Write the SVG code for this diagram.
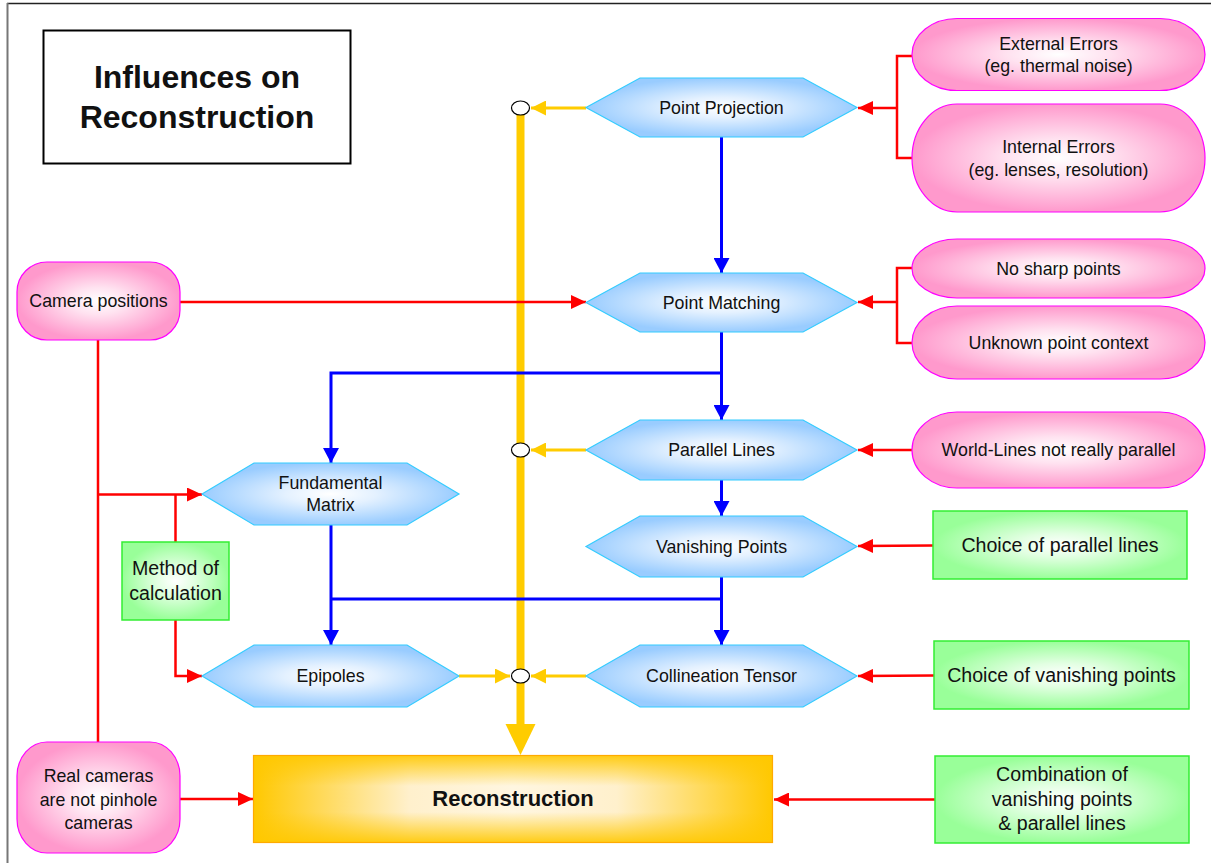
<svg xmlns="http://www.w3.org/2000/svg" width="1211" height="863" viewBox="0 0 1211 863">
<defs>
<style>
text{font-family:"Liberation Sans",Arial,sans-serif;fill:#111;text-anchor:middle}
.t16{font-size:17.8px}
.t18{font-size:19.6px}
.hex{fill:url(#gBlue);stroke:#33CCFF;stroke-width:1.2}
.pink{fill:url(#gPink);stroke:#FF00FF;stroke-width:1.2}
.green{fill:url(#gGreen);stroke:#33EE33;stroke-width:1.5}
.red{fill:none;stroke:#FF0000;stroke-width:2.5}
.blue{fill:none;stroke:#0000FF;stroke-width:3}
.yel{fill:none;stroke:#FFCC00;stroke-width:3}
</style>
<radialGradient id="gBlue" cx="50%" cy="50%" r="50%">
<stop offset="0" stop-color="#FFFFFF"/>
<stop offset="0.35" stop-color="#E4F1FF"/>
<stop offset="1" stop-color="#99CCFF"/>
</radialGradient>
<radialGradient id="gPink" cx="50%" cy="50%" r="50%">
<stop offset="0" stop-color="#FFFFFF"/>
<stop offset="0.35" stop-color="#FFE2F0"/>
<stop offset="1" stop-color="#FF99CC"/>
</radialGradient>
<radialGradient id="gGreen" cx="50%" cy="50%" r="50%">
<stop offset="0" stop-color="#FFFFFF"/>
<stop offset="0.35" stop-color="#E2FFE2"/>
<stop offset="1" stop-color="#99FF99"/>
</radialGradient>
<linearGradient id="gOrH" x1="0" y1="0" x2="1" y2="0">
<stop offset="0" stop-color="#FFC800"/>
<stop offset="0.3" stop-color="#FFF0CC"/>
<stop offset="0.5" stop-color="#FFF6E0"/>
<stop offset="0.7" stop-color="#FFF0CC"/>
<stop offset="1" stop-color="#FFC800"/>
</linearGradient>
<linearGradient id="gOrV" x1="0" y1="0" x2="0" y2="1">
<stop offset="0" stop-color="#FFC800" stop-opacity="0.9"/>
<stop offset="0.35" stop-color="#FFC800" stop-opacity="0"/>
<stop offset="0.65" stop-color="#FFC800" stop-opacity="0"/>
<stop offset="1" stop-color="#FFC800" stop-opacity="0.9"/>
</linearGradient>
<marker id="aRed" markerUnits="userSpaceOnUse" markerWidth="15" markerHeight="14" refX="15" refY="7" orient="auto">
<path d="M0,0 L15,7 L0,14 z" fill="#FF0000"/>
</marker>
<marker id="aBlue" markerUnits="userSpaceOnUse" markerWidth="15" markerHeight="16" refX="15" refY="8" orient="auto">
<path d="M0,0 L15,8 L0,16 z" fill="#0000FF"/>
</marker>
<marker id="aYel" markerUnits="userSpaceOnUse" markerWidth="15" markerHeight="15" refX="15" refY="7.5" orient="auto">
<path d="M0,0 L15,7.5 L0,15 z" fill="#FFCC00"/>
</marker>
</defs>

<rect x="0" y="0" width="1211" height="863" fill="#FFFFFF"/>
<g id="frame">
<line x1="7" y1="3.5" x2="1211" y2="3.5" stroke="#222" stroke-width="1.5"/>
<line x1="7.5" y1="3" x2="7.5" y2="863" stroke="#777" stroke-width="2"/>
</g>

<g id="title">
<rect x="43.5" y="30.5" width="307" height="133" fill="#FFFFFF" stroke="#000" stroke-width="2"/>
<text x="197" y="88" style="font-size:32px;font-weight:bold">Influences on</text>
<text x="197" y="128" style="font-size:32px;font-weight:bold">Reconstruction</text>
</g>

<g id="connectors">
<line x1="520.5" y1="112" x2="520.5" y2="726" stroke="#FFCC00" stroke-width="8"/>
<path d="M505.5,724 L535.5,724 L520.5,755 z" fill="#FFCC00"/>
<line class="yel" x1="586" y1="108" x2="531" y2="108" marker-end="url(#aYel)"/>
<line class="yel" x1="586" y1="450" x2="531" y2="450" marker-end="url(#aYel)"/>
<line class="yel" x1="586" y1="676" x2="531" y2="676" marker-end="url(#aYel)"/>
<line class="yel" x1="459" y1="676" x2="510" y2="676" marker-end="url(#aYel)"/>
<line class="blue" x1="721.5" y1="137" x2="721.5" y2="273" marker-end="url(#aBlue)"/>
<line class="blue" x1="721.5" y1="332" x2="721.5" y2="420" marker-end="url(#aBlue)"/>
<polyline class="blue" points="721.5,373 331,373 331,463" marker-end="url(#aBlue)"/>
<line class="blue" x1="721.5" y1="480" x2="721.5" y2="516" marker-end="url(#aBlue)"/>
<line class="blue" x1="721.5" y1="577" x2="721.5" y2="645" marker-end="url(#aBlue)"/>
<line class="blue" x1="331" y1="524" x2="331" y2="645" marker-end="url(#aBlue)"/>
<line class="blue" x1="331" y1="599" x2="721.5" y2="599"/>
<polyline class="red" points="912,56 897,56 897,158 912,158"/>
<line class="red" x1="897" y1="108" x2="858" y2="108" marker-end="url(#aRed)"/>
<polyline class="red" points="912,268 897,268 897,343 912,343"/>
<line class="red" x1="897" y1="302" x2="858" y2="302" marker-end="url(#aRed)"/>
<line class="red" x1="912" y1="450" x2="858" y2="450" marker-end="url(#aRed)"/>
<line class="red" x1="933" y1="545.5" x2="858" y2="546" marker-end="url(#aRed)"/>
<line class="red" x1="934" y1="675.5" x2="858" y2="676" marker-end="url(#aRed)"/>
<line class="red" x1="935" y1="799.5" x2="774" y2="799.5" marker-end="url(#aRed)"/>
<line class="red" x1="180" y1="302" x2="586" y2="302" marker-end="url(#aRed)"/>
<line class="red" x1="98" y1="340" x2="98" y2="743"/>
<line class="red" x1="98" y1="494.5" x2="202" y2="494.5" marker-end="url(#aRed)"/>
<line class="red" x1="175.5" y1="494.5" x2="175.5" y2="542"/>
<polyline class="red" points="175.5,620 175.5,676 202,676" marker-end="url(#aRed)"/>
<line class="red" x1="180" y1="799" x2="253" y2="799" marker-end="url(#aRed)"/>
<ellipse cx="520.5" cy="108" rx="9" ry="7" fill="#FFFFFF" stroke="#000" stroke-width="1.2"/>
<ellipse cx="520.5" cy="450" rx="9" ry="7" fill="#FFFFFF" stroke="#000" stroke-width="1.2"/>
<ellipse cx="520.5" cy="676" rx="9" ry="7" fill="#FFFFFF" stroke="#000" stroke-width="1.2"/>
</g>

<g id="point-projection">
<polygon class="hex" points="586,107.5 640,78 803,78 857,107.5 803,137 640,137"/>
<text class="t16" x="721.5" y="114">Point Projection</text>
</g>
<g id="point-matching">
<polygon class="hex" points="586,302.5 640,273 803,273 857,302.5 803,332 640,332"/>
<text class="t16" x="721.5" y="309">Point Matching</text>
</g>
<g id="parallel-lines">
<polygon class="hex" points="586,450 640,420 803,420 857,450 803,480 640,480"/>
<text class="t16" x="721.5" y="456">Parallel Lines</text>
</g>
<g id="vanishing-points">
<polygon class="hex" points="586,546.5 640,516 803,516 857,546.5 803,577 640,577"/>
<text class="t16" x="721.5" y="553">Vanishing Points</text>
</g>
<g id="collineation-tensor">
<polygon class="hex" points="586,676 640,645 803,645 857,676 803,707 640,707"/>
<text class="t16" x="721.5" y="682">Collineation Tensor</text>
</g>
<g id="fundamental-matrix">
<polygon class="hex" points="202,494 254,463 407,463 459,494 407,525 254,525"/>
<text class="t16" x="330.5" y="489">Fundamental</text>
<text class="t16" x="330.5" y="511">Matrix</text>
</g>
<g id="epipoles">
<polygon class="hex" points="202,676 254,645 407,645 459,676 407,707 254,707"/>
<text class="t16" x="330.5" y="682">Epipoles</text>
</g>

<g id="reconstruction">
<rect x="253.5" y="755.5" width="519" height="87" fill="url(#gOrH)"/>
<rect x="253.5" y="755.5" width="519" height="87" fill="url(#gOrV)" stroke="#FFAA00" stroke-width="1.2"/>
<text x="513" y="806" style="font-size:22px;font-weight:bold">Reconstruction</text>
</g>

<g id="external-errors">
<rect class="pink" x="912" y="18.5" width="293" height="72" rx="45" ry="36"/>
<text class="t16" x="1058.5" y="50">External Errors</text>
<text class="t16" x="1058.5" y="72">(eg. thermal noise)</text>
</g>
<g id="internal-errors">
<rect class="pink" x="912" y="104" width="293" height="108" rx="45" ry="54"/>
<text class="t16" x="1058.5" y="153">Internal Errors</text>
<text class="t16" x="1058.5" y="176">(eg. lenses, resolution)</text>
</g>
<g id="no-sharp-points">
<rect class="pink" x="912" y="239" width="293" height="59" rx="45" ry="29.5"/>
<text class="t16" x="1058.5" y="275">No sharp points</text>
</g>
<g id="unknown-point-context">
<rect class="pink" x="912" y="306" width="293" height="73" rx="45" ry="36.5"/>
<text class="t16" x="1058.5" y="349">Unknown point context</text>
</g>
<g id="world-lines">
<rect class="pink" x="912" y="412" width="293" height="76" rx="45" ry="38"/>
<text class="t16" x="1058.5" y="456">World-Lines not really parallel</text>
</g>
<g id="camera-positions">
<rect class="pink" x="17" y="262" width="163" height="78" rx="30" ry="30"/>
<text class="t16" x="98.5" y="307">Camera positions</text>
</g>
<g id="real-cameras">
<rect class="pink" x="17" y="742" width="163" height="111" rx="30" ry="34"/>
<text class="t16" x="98.5" y="782">Real cameras</text>
<text class="t16" x="98.5" y="806">are not pinhole</text>
<text class="t16" x="98.5" y="829">cameras</text>
</g>

<g id="method-of-calculation">
<rect class="green" x="122" y="542" width="107" height="78"/>
<text class="t18" x="175.5" y="575">Method of</text>
<text class="t18" x="175.5" y="600">calculation</text>
</g>
<g id="choice-parallel-lines">
<rect class="green" x="933" y="511" width="254" height="68"/>
<text class="t18" x="1060" y="552">Choice of parallel lines</text>
</g>
<g id="choice-vanishing-points">
<rect class="green" x="934" y="641" width="255" height="68"/>
<text class="t18" x="1061.5" y="682">Choice of vanishing points</text>
</g>
<g id="combination">
<rect class="green" x="935" y="756" width="254" height="87"/>
<text class="t18" x="1062" y="781">Combination of</text>
<text class="t18" x="1062" y="806">vanishing points</text>
<text class="t18" x="1062" y="830">&amp; parallel lines</text>
</g>
</svg>
